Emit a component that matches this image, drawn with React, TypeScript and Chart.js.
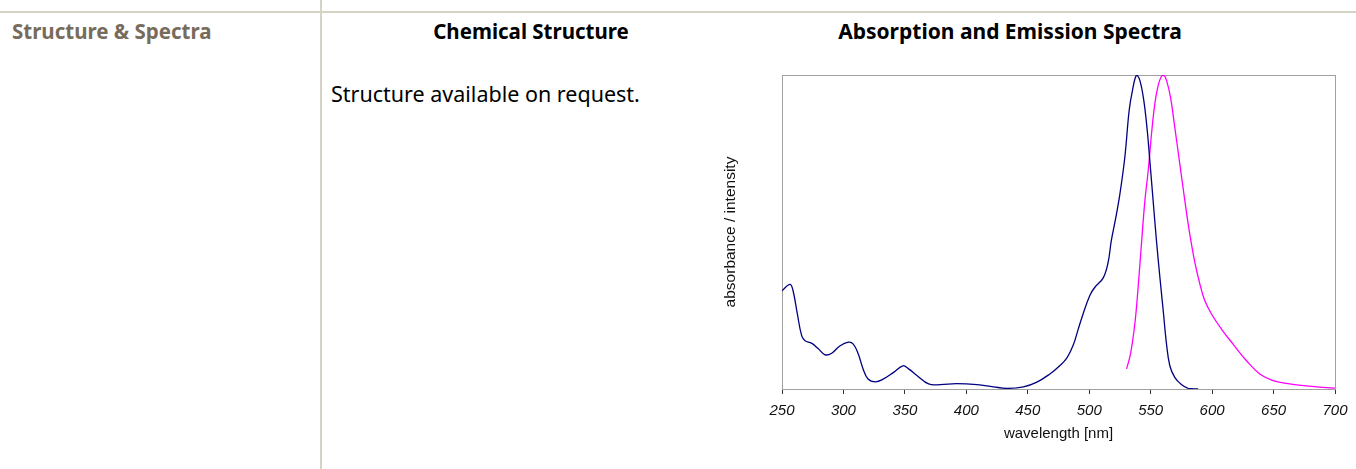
import React, { useEffect, useRef } from "react";
import { Chart, registerables } from "chart.js";

Chart.register(...registerables);

const absWavelength = [250, 256.5, 259, 262.5, 266, 268.8, 274, 279.6, 285, 290.5, 297, 304, 308, 312, 316, 320, 326, 332.6, 340.8, 348.4, 353, 359.8, 369.3, 378.8, 392, 408.7, 422, 433, 446.5, 457, 468, 476, 482, 487, 491, 495, 500.5, 504.6, 511.4, 515.4, 518, 521.7, 525, 529, 532.5, 535.2, 538.5, 541.2, 544.4, 547.2, 549.3, 552, 554.7, 557.5, 560.2, 562.9, 565.6, 569.6, 575, 580.5, 588.6];
const absValues = [0.313, 0.333, 0.313, 0.239, 0.17, 0.154, 0.146, 0.128, 0.109, 0.114, 0.137, 0.149, 0.143, 0.112, 0.064, 0.032, 0.023, 0.032, 0.053, 0.074, 0.064, 0.043, 0.016, 0.014, 0.017, 0.014, 0.007, 0.002, 0.007, 0.021, 0.048, 0.074, 0.1, 0.14, 0.19, 0.239, 0.298, 0.324, 0.354, 0.404, 0.473, 0.547, 0.622, 0.739, 0.887, 0.951, 1.0, 0.983, 0.919, 0.824, 0.728, 0.6, 0.473, 0.356, 0.25, 0.143, 0.074, 0.037, 0.014, 0.002, 0.0];

const emWavelength = [530.4, 533.6, 537.1, 539.8, 542.5, 545.3, 548, 550.7, 553.4, 556.1, 558.8, 560.7, 562.9, 566.1, 569.6, 573.7, 577.8, 581.8, 585.9, 590, 594, 599.5, 607.6, 617, 628, 638.8, 649.6, 663, 676.7, 690, 700];
const emValues = [0.064, 0.112, 0.207, 0.324, 0.462, 0.6, 0.696, 0.813, 0.909, 0.967, 0.996, 1.0, 0.983, 0.93, 0.834, 0.717, 0.6, 0.494, 0.404, 0.335, 0.282, 0.239, 0.191, 0.143, 0.09, 0.048, 0.027, 0.016, 0.01, 0.005, 0.003];

const xTicks = [250, 300, 350, 400, 450, 500, 550, 600, 650, 700];

const headerColor = "#776c5b";
const lineColor = "#d5d3c3";

const frame = {
  id: "frame",
  beforeDatasetsDraw(chart: any) {
    const { ctx, chartArea: a } = chart;
    ctx.save();
    ctx.strokeStyle = "#a0a0a0";
    ctx.lineWidth = 1;
    ctx.strokeRect(Math.round(a.left) + 0.5, Math.round(a.top) + 0.5, Math.round(a.right - a.left), Math.round(a.bottom - a.top));
    ctx.restore();
  },
};

function SpectraChart() {
  const ref = useRef<HTMLCanvasElement | null>(null);
  useEffect(() => {
    if (!ref.current) return;
    const font = { family: "'Liberation Sans', Arial, sans-serif", size: 15 };
    const chart = new Chart(ref.current, {
      type: "line",
      data: {
        datasets: [
          {
            label: "absorbance",
            data: absWavelength.map((x, i) => ({ x, y: absValues[i] })),
            borderColor: "#000080",
            borderWidth: 1.3,
            pointRadius: 0,
            tension: 0.4,
            fill: false,
          },
          {
            label: "emission",
            data: emWavelength.map((x, i) => ({ x, y: emValues[i] })),
            borderColor: "#ff00ff",
            borderWidth: 1.3,
            pointRadius: 0,
            tension: 0.4,
            fill: false,
          },
        ],
      },
      options: {
        animation: false,
        responsive: false,
        maintainAspectRatio: false,
        layout: { padding: { top: 15, right: 21, left: 0, bottom: 0 } },
        plugins: { legend: { display: false }, tooltip: { enabled: false } },
        scales: {
          x: {
            type: "linear",
            min: 250,
            max: 700,
            afterBuildTicks: (s: any) => {
              s.ticks = xTicks.map((v) => ({ value: v }));
            },
            afterFit: (s: any) => {
              s.height = 80;
            },
            grid: { display: true, drawOnChartArea: false, drawTicks: true, tickLength: 5, color: "#333333" },
            border: { display: true, color: "#333333", width: 1 },
            ticks: {
              color: "#111111",
              font: { ...font, style: "italic" },
              padding: 8,
              maxRotation: 0,
              autoSkip: false,
            },
            title: {
              display: true,
              text: "wavelength [nm]",
              color: "#111111",
              font,
              padding: { top: 0, bottom: 26 },
            },
          },
          y: {
            type: "linear",
            min: 0,
            max: 1,
            afterFit: (s: any) => {
              s.width = 82;
            },
            grid: { display: false },
            border: { display: true, color: "#a0a0a0" },
            ticks: { display: false },
            title: {
              display: true,
              text: "absorbance / intensity",
              color: "#111111",
              font: { ...font, size: 15.5 },
              padding: { top: 21, bottom: 0 },
            },
          },
        },
      },
      plugins: [frame],
    } as any);
    return () => chart.destroy();
  }, []);
  return (
    <canvas
      ref={ref}
      width={656}
      height={409}
      style={{ position: "absolute", left: 700, top: 60, width: 656, height: 409 }}
    />
  );
}

export default function App() {
  const sans = "'Noto Sans', 'Open Sans', sans-serif";
  return (
    <div style={{ position: "absolute", left: 0, top: 0, width: 1356, height: 469, overflow: "hidden", fontFamily: sans }}>
      <div style={{ position: "absolute", left: 0, top: 11, width: 1356, height: 2, background: lineColor }} />
      <div style={{ position: "absolute", left: 320, top: 0, width: 2, height: 469, background: lineColor }} />
      <div style={{ position: "absolute", left: 12, top: 19, fontSize: 20.5, fontWeight: 700, lineHeight: "24px", color: headerColor, whiteSpace: "nowrap" }}>
        Structure &amp; Spectra
      </div>
      <div style={{ position: "absolute", left: 331, top: 19, width: 400, textAlign: "center", fontSize: 20.5, fontWeight: 700, lineHeight: "24px", color: "#000", whiteSpace: "nowrap" }}>
        Chemical Structure
      </div>
      <div style={{ position: "absolute", left: 810, top: 19, width: 400, textAlign: "center", fontSize: 21, fontWeight: 700, lineHeight: "24px", color: "#000", whiteSpace: "nowrap" }}>
        Absorption and Emission Spectra
      </div>
      <div style={{ position: "absolute", left: 331, top: 80, fontSize: 21.5, lineHeight: "28px", color: "#000", whiteSpace: "nowrap" }}>
        Structure available on request.
      </div>
      <SpectraChart />
    </div>
  );
}
